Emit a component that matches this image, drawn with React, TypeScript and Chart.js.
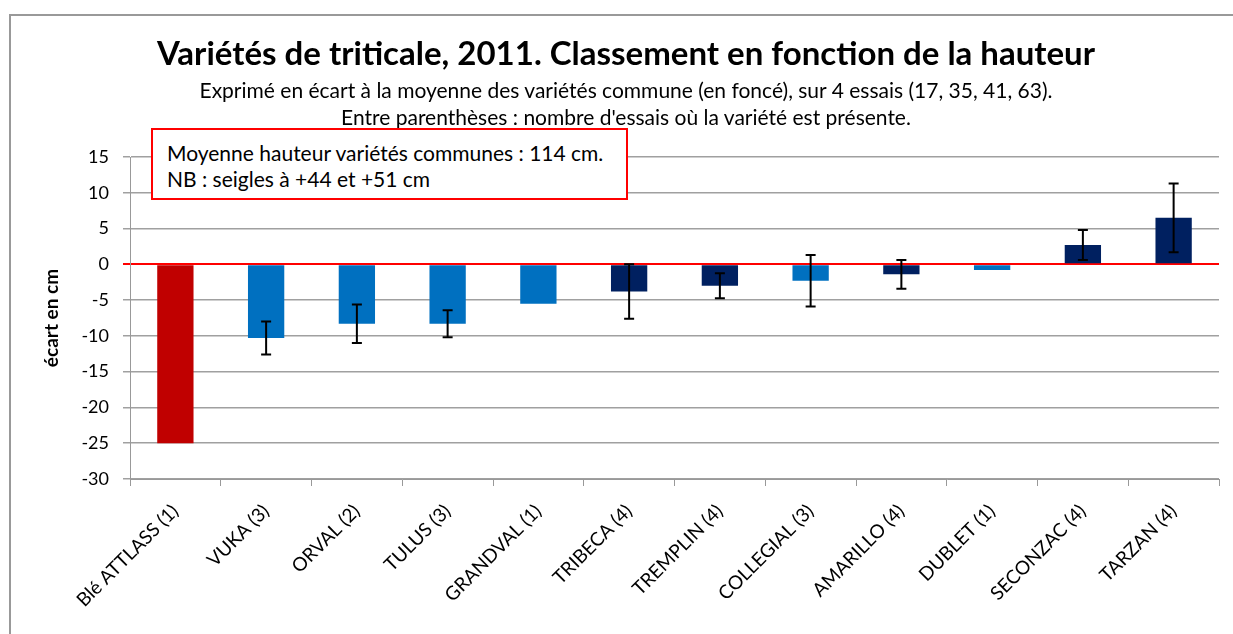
import React, { useEffect, useRef } from "react";
import { Chart, registerables } from "chart.js";

Chart.register(...registerables);

const categories = [
  "Blé ATTLASS (1)",
  "VUKA (3)",
  "ORVAL (2)",
  "TULUS (3)",
  "GRANDVAL (1)",
  "TRIBECA (4)",
  "TREMPLIN (4)",
  "COLLEGIAL (3)",
  "AMARILLO (4)",
  "DUBLET (1)",
  "SECONZAC (4)",
  "TARZAN (4)",
];
const values = [-25.0, -10.3, -8.3, -8.3, -5.5, -3.8, -3.0, -2.3, -1.4, -0.8, 2.7, 6.5];
const errors = [0, 2.3, 2.7, 1.9, 0, 3.8, 1.75, 3.6, 2.0, 0, 2.1, 4.8];
const kinds = ["ble", "light", "light", "light", "light", "dark", "dark", "light", "dark", "light", "dark", "dark"];
const yTicks = [15, 10, 5, 0, -5, -10, -15, -20, -25, -30];

const colorOf: Record<string, string> = {
  ble: "#C00000",
  light: "#0070C0",
  dark: "#002060",
};

const FONT = "Lato, 'Open Sans', sans-serif";

const errorBarPlugin = {
  id: "errorBars",
  afterDatasetsDraw(chart: any) {
    const meta = chart.getDatasetMeta(0);
    const y = chart.scales.y;
    const ctx = chart.ctx;
    ctx.save();
    ctx.strokeStyle = "#000";
    ctx.lineWidth = 2;
    meta.data.forEach((bar: any, i: number) => {
      const e = errors[i];
      if (!e) return;
      const v = values[i];
      const yt = y.getPixelForValue(v + e);
      const yb = y.getPixelForValue(v - e);
      const x = bar.x;
      ctx.beginPath();
      ctx.moveTo(x, yt);
      ctx.lineTo(x, yb);
      ctx.moveTo(x - 5, yt);
      ctx.lineTo(x + 5, yt);
      ctx.moveTo(x - 5, yb);
      ctx.lineTo(x + 5, yb);
      ctx.stroke();
    });
    ctx.restore();
  },
};

export default function App() {
  const ref = useRef<HTMLCanvasElement>(null);
  useEffect(() => {
    const chart = new Chart(ref.current!, {
      type: "bar",
      data: {
        labels: categories,
        datasets: [
          {
            data: values,
            backgroundColor: kinds.map((k) => colorOf[k]),
            barPercentage: 0.4,
            categoryPercentage: 1,
          },
        ],
      },
      options: {
        animation: false,
        responsive: false,
        devicePixelRatio: 1,
        layout: { padding: { top: 157, right: 14, left: 0, bottom: 0 } },
        plugins: { legend: { display: false }, tooltip: { enabled: false } },
        scales: {
          x: {
            grid: {
              display: true,
              drawOnChartArea: false,
              drawTicks: true,
              tickLength: 7,
              offset: true,
              color: "#999",
            },
            border: { display: true, color: "#999", width: 1 },
            ticks: {
              maxRotation: 45,
              minRotation: 45,
              autoSkip: false,
              padding: 14,
              color: "#000",
              font: { family: FONT, size: 19 },
            },
            afterFit(scale: any) {
              scale.height = 155;
            },
          },
          y: {
            min: -30,
            max: 15,
            afterBuildTicks(scale: any) {
              scale.ticks = yTicks.map((v) => ({ value: v }));
            },
            grid: {
              color: (c: any) => (c.tick && c.tick.value === 0 ? "#FF0000" : "#A0A0A0"),
              lineWidth: (c: any) => (c.tick && c.tick.value === 0 ? 2 : 1.5),
              tickLength: 7,
            },
            border: { display: true, color: "#999", width: 1 },
            ticks: {
              padding: 14,
              color: "#000",
              font: { family: FONT, size: 18 },
            },
            title: {
              display: true,
              text: "écart en cm",
              color: "#000",
              font: { family: FONT, size: 19, weight: "bold" },
              padding: { top: 40, bottom: 0 },
            },
            afterFit(scale: any) {
              scale.width = 130;
            },
          },
        },
      },
      plugins: [errorBarPlugin],
    });
    return () => chart.destroy();
  }, []);

  return (
    <div style={{ position: "absolute", left: 0, top: 0, width: 1233, height: 634, background: "#fff", overflow: "hidden" }}>
      <div style={{ position: "absolute", left: 9, top: 14, width: 1240, height: 700, borderTop: "2px solid #999", borderLeft: "2px solid #999" }} />
      <canvas ref={ref} width={1233} height={634} style={{ position: "absolute", left: 0, top: 0 }} />
      <div style={{ position: "absolute", left: 0, width: 1252, top: 32, textAlign: "center", fontFamily: FONT, fontWeight: "bold", fontSize: 33, lineHeight: "40px", color: "#000" }}>
        Variétés de triticale, 2011. Classement en fonction de la hauteur
      </div>
      <div style={{ position: "absolute", left: 0, width: 1252, top: 76, textAlign: "center", fontFamily: FONT, fontSize: 21, lineHeight: "27px", color: "#000" }}>
        Exprimé en écart à la moyenne des variétés commune (en foncé), sur 4 essais (17, 35, 41, 63).
        <br />
        Entre parenthèses : nombre d'essais où la variété est présente.
      </div>
      <div style={{ position: "absolute", left: 151, top: 128, width: 473, height: 68, border: "2px solid #FF0000", background: "#fff", boxSizing: "content-box", fontFamily: FONT, fontSize: 21, lineHeight: "25px", color: "#000", padding: 0 }}>
        <div style={{ position: "absolute", left: 14, top: 10, whiteSpace: "nowrap" }}>Moyenne hauteur variétés communes : 114 cm.</div>
        <div style={{ position: "absolute", left: 14, top: 36, whiteSpace: "nowrap" }}>NB : seigles à +44 et +51 cm</div>
      </div>
    </div>
  );
}
